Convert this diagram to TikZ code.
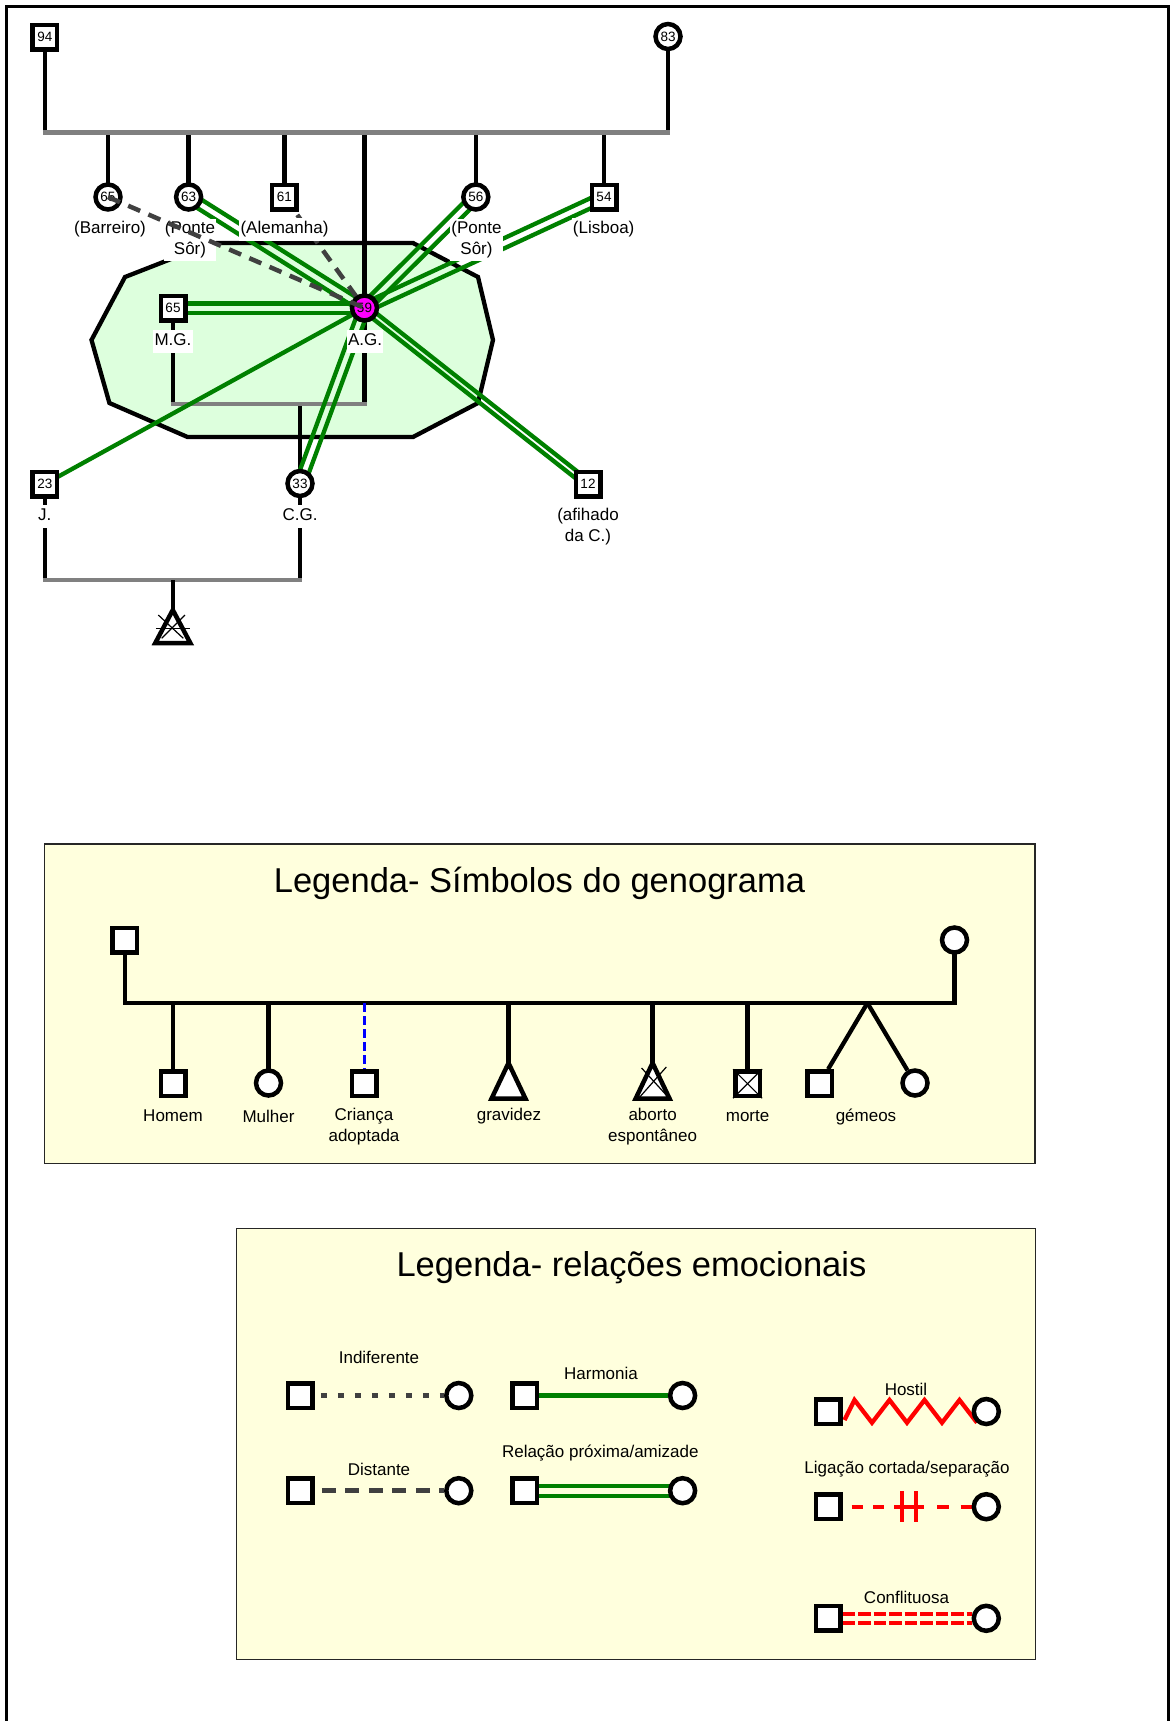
\documentclass[tikz,border=0pt]{standalone}
\usepackage{fontspec}
\setmainfont{Liberation Sans}
\usetikzlibrary{calc}

\definecolor{relgreen}{HTML}{008000}
\definecolor{dgray}{HTML}{404040}
\definecolor{midgray}{HTML}{808080}
\definecolor{mint}{HTML}{DDFFDD}
\definecolor{cream}{HTML}{FFFFDD}
\definecolor{agpink}{HTML}{FF00FF}

\pgfdeclarelayer{bg}
\pgfdeclarelayer{lines}
\pgfdeclarelayer{top}
\pgfsetlayers{bg,lines,main,top}

\newcommand\labfont{\fontsize{17}{21}\selectfont}
\newcommand\gnumfont{\fontsize{13.5}{15}\selectfont}
\newcommand\ttlfont{\fontsize{34.5}{40}\selectfont}

% close relationship: two parallel green lines between two nodes
\newcommand\closerel[3][4.65pt]{%
  \draw[harm] ($(#2.center)!#1!90:(#3.center)$) -- ($(#3.center)!#1!-90:(#2.center)$);
  \draw[harm] ($(#2.center)!#1!-90:(#3.center)$) -- ($(#3.center)!#1!90:(#2.center)$);}

\tikzset{
  gl/.style={line width=4.3pt},
  sibl/.style={line width=4.3pt, draw=midgray, line cap=rect},
  sq/.style={rectangle, draw, line width=4.5pt, fill=white, minimum size=24.5pt, inner sep=0pt, font=\gnumfont},
  ci/.style={circle, draw, line width=4.5pt, fill=white, minimum size=25pt, inner sep=0pt, font=\gnumfont},
  lab/.style={fill=white, font=\labfont, inner xsep=1.2pt, inner ysep=3.5pt, text height=12pt, text depth=4pt},
  labm/.style={fill=white, font=\labfont, align=center, inner xsep=1.2pt, inner ysep=3pt},
  leg/.style={font=\labfont, align=center, inner sep=0pt},
  harm/.style={draw=relgreen, line width=4.3pt},
  distl/.style={draw=dgray, line width=4.5pt, dash pattern=on 13pt off 9pt},
  redl/.style={draw=red, line width=4.3pt},
  tri/.style={draw, line width=4.5pt, fill=white, line join=miter, miter limit=20},
  thinx/.style={line width=1.2pt},
  legbox/.style={fill=cream, draw=black!85, line width=1.5pt},
}

\begin{document}
\begin{tikzpicture}[x=1pt, y=-1pt]
\useasboundingbox (0,0) rectangle (1170,1721);

% page frame (open at the bottom)
\draw[line width=3pt] (6.5,1730) -- (6.5,6.5) -- (1168.8,6.5) -- (1168.8,1730);

% ---------------- genogram ----------------
\coordinate (sib) at (0,132.5);
\coordinate (mgbar) at (0,404);
\coordinate (jcbar) at (0,580);
\coordinate (ab) at (172.8,610);

\node[sq] (n94) at (44.8,37) {94};
\node[ci] (n83) at (668,36.5) {83};
\node[ci] (c65) at (108,197) {65};
\node[ci] (c63) at (188.6,197) {63};
\node[sq] (c61) at (284.4,197) {61};
\node[ci] (c56) at (475.8,197) {56};
\node[sq] (c54) at (604,197) {54};
\node[sq] (mg) at (173,308) {65};
\node[ci, fill=agpink] (ag) at (364.5,308) {59};
\node[sq] (jj) at (44.8,484) {23};
\node[ci] (cg) at (300,483.5) {33};
\node[sq] (c12) at (588,484) {12};

% household boundary
\begin{pgfonlayer}{bg}
  \draw[line width=4.3pt, fill=mint] (212,243) -- (413,243) -- (478,277) -- (493,340)
    -- (478,403) -- (413,437) -- (187.5,437) -- (109.4,403) -- (91.5,340) -- (125,277) -- cycle;
\end{pgfonlayer}

\begin{pgfonlayer}{lines}
  % parents and siblings
  \draw[gl] (n94.center) -- (n94 |- sib);
  \draw[gl] (n83.center) -- (n83 |- sib);
  \foreach \nd in {c65,c63,c61,ag,c56,c54} \draw[gl] (\nd.center) -- (\nd |- sib);
  \draw[sibl] (n94 |- sib) -- (n83 |- sib);
  % M.G. and A.G. with their daughter
  \draw[gl] (mg.center) -- (mg |- mgbar);
  \draw[gl] (ag.center) -- (ag |- mgbar);
  \draw[gl] (cg.center) -- (cg |- mgbar);
  \draw[sibl] (mg |- mgbar) -- (ag |- mgbar);
  % J. and C.G.
  \draw[gl] (jj.center) -- (jj |- jcbar);
  \draw[gl] (cg.center) -- (cg |- jcbar);
  \draw[sibl] (jj |- jcbar) -- (cg |- jcbar);
  \draw[gl] (ab |- jcbar) -- (ab);
  % emotional relations of A.G.
  \closerel{ag}{c63}
  \closerel{ag}{c56}
  \closerel{ag}{c54}
  \closerel{ag}{mg}
  \closerel{ag}{cg}
  \closerel[3.2pt]{ag}{c12}
  \draw[harm] (ag.center) -- (jj.center);
  \draw[distl] (c61.center) -- (ag.center);
\end{pgfonlayer}

% miscarriage of J. and C.G.
\draw[tri] (ab) -- ++(17.5,33) -- ++(-35,0) -- cycle;
\draw[thinx] (ab) ++(-14.5,5) -- ++(25,23.3);
\draw[thinx] (ab) ++(12.2,5) -- ++(-23.3,23.3);
\draw[thinx] (ab) ++(-17,18.3) -- ++(34,0);

% name tags
\node[lab] (tb) at (110,229) {(Barreiro)};
\node[labm] (tp1) at (190,240) {(Ponte\\Sôr)};
\node[lab] (ta) at (284.5,229) {(Alemanha)};
\node[labm] (tp2) at (476.5,240) {(Ponte\\Sôr)};
\node[lab] (tl) at (603.7,229) {(Lisboa)};
\node[lab] (tmg) at (173,341) {M.G.};
\node[lab] (tag) at (365,341) {A.G.};
\node[lab] (tj) at (44.8,516) {J.};
\node[lab] (tcg) at (300,516) {C.G.};
\node[labm] (t12) at (588,527) {(afihado\\da C.)};

\begin{pgfonlayer}{top}
  \draw[distl] (c65.center) -- (ag.center);
\end{pgfonlayer}

% ---------------- legend: genogram symbols ----------------
\begin{pgfonlayer}{bg}
  \draw[legbox] (44.3,844) rectangle (1035,1163.3);
  \draw[legbox] (236.3,1228.3) rectangle (1035.4,1659.3);
\end{pgfonlayer}
\node[font=\ttlfont] (t1) at (539.5,883) {Legenda- Símbolos do genograma};

\coordinate (lbar) at (0,1003);
\coordinate (lgrv) at (508.5,1063);
\coordinate (labo) at (652.6,1063);
\coordinate (ltw) at (867.4,1003);
\node[sq] (lfa) at (124.8,940) {};
\node[ci] (lmo) at (954.5,940) {};
\node[sq] (lhom) at (173,1083.7) {};
\node[ci] (lmul) at (268.5,1083) {};
\node[sq] (lado) at (364,1083.7) {};
\node[sq] (lmor) at (747.6,1083.7) {};
\node[sq] (ltwa) at (819.5,1083.7) {};
\node[ci] (ltwb) at (915,1083) {};

\begin{pgfonlayer}{lines}
  \draw[gl] (lfa.center) -- (lfa |- lbar) -- (lmo |- lbar) -- (lmo.center);
  \draw[gl] (lhom.center) -- (lhom |- lbar);
  \draw[gl] (lmul.center) -- (lmul |- lbar);
  \draw[line width=3pt, draw=blue, dash pattern=on 9pt off 4pt] (lado |- lbar) -- (lado.north);
  \draw[gl] (lgrv |- lbar) -- (lgrv);
  \draw[gl] (labo |- lbar) -- (labo);
  \draw[gl] (lmor.center) -- (lmor |- lbar);
  \draw[gl] (ltw) -- (ltwa);
  \draw[gl] (ltw) -- (ltwb);
\end{pgfonlayer}

\draw[tri] (lgrv) -- ++(17,35.7) -- ++(-34,0) -- cycle;
\draw[tri] (labo) -- ++(17,35.7) -- ++(-34,0) -- cycle;
\draw[thinx] (labo) ++(-11,5) -- ++(28,30.7);
\draw[thinx] (labo) ++(13.7,4) -- ++(-28,31.7);
\draw[thinx] (lmor.north west) -- (lmor.south east);
\draw[thinx] (lmor.north east) -- (lmor.south west);

\node[leg] (lt1) at (173,1116) {Homem};
\node[leg] (lt2) at (268.5,1116) {Mulher};
\node[leg] (lt3) at (364,1127) {Criança\\adoptada};
\node[leg] (lt4) at (509,1116) {gravidez};
\node[leg] (lt5) at (652.6,1127) {aborto\\espontâneo};
\node[leg] (lt6) at (747.6,1116) {morte};
\node[leg] (lt7) at (866,1117) {gémeos};

% ---------------- legend: emotional relations ----------------
\node[font=\ttlfont] (t2) at (631.5,1268) {Legenda- relações emocionais};

\node[sq] (isq) at (300.3,1395.5) {};
\node[ci] (icr) at (458.8,1395.5) {};
\node[sq] (asq) at (524.7,1395.5) {};
\node[ci] (acr) at (682.6,1395.5) {};
\node[sq] (dsq) at (300.3,1490.7) {};
\node[ci] (dcr) at (458.8,1490.7) {};
\node[sq] (psq) at (524.7,1490.7) {};
\node[ci] (pcr) at (682.6,1490.7) {};
\node[sq] (hsq) at (828,1411.5) {};
\node[ci] (hcr) at (986.3,1411.5) {};
\node[sq] (csq) at (828,1506.7) {};
\node[ci] (ccr) at (986.3,1506.7) {};
\node[sq] (fsq) at (828,1618.3) {};
\node[ci] (fcr) at (986.3,1618.3) {};

\begin{pgfonlayer}{lines}
  \draw[draw=dgray, line width=5pt, dash pattern=on 6pt off 11pt, dash phase=11pt] (isq.east) -- (icr.west);
  \draw[harm] (asq) -- (acr);
  \draw[draw=dgray, line width=4.5pt, dash pattern=on 14pt off 9.5pt, dash phase=16.5pt] (dsq.east) -- (dcr.west);
  \closerel[5pt]{psq}{pcr}
  \draw[redl, line join=miter] (hsq.east) ++(2,8.5) -- ++(10,-20) -- ++(17.5,22.7) -- ++(17.5,-22.7)
    -- ++(17.5,22.7) -- ++(17.5,-22.7) -- ++(17.5,22.7) -- ++(17.5,-22.7) -- ++(17.5,22.7);
  \draw[redl] (csq.east) ++(9,0) -- ++(11,0) ++(10.5,0) -- ++(11,0) ++(10,0) -- ++(30,0)
    ++(13.2,0) -- ++(11.7,0) ++(11.6,0) -- ++(12,0);
  \draw[redl, line width=3.8pt] (csq.east) ++(59.75,-15.3) -- ++(0,30.6);
  \draw[redl, line width=3.8pt] (csq.east) ++(73.5,-15.3) -- ++(0,30.6);
  \draw[redl, dash pattern=on 12.5pt off 3pt] ([yshift=4.5pt]fsq.east) -- ([yshift=4.5pt]fcr.west);
  \draw[redl, dash pattern=on 12.5pt off 3pt] ([yshift=-4.5pt]fsq.east) -- ([yshift=-4.5pt]fcr.west);
\end{pgfonlayer}

\node[leg] (rl1) at (379,1357.5) {Indiferente};
\node[leg] (rl2) at (601,1373) {Harmonia};
\node[leg] (rl3) at (379,1469) {Distante};
\node[leg] (rl4) at (600.3,1453.5) {Relação próxima/amizade};
\node[leg] (rl5) at (906,1389) {Hostil};
\node[leg] (rl6) at (907,1469) {Ligação cortada/separação};
\node[leg] (rl7) at (906.5,1597) {Conflituosa};

\end{tikzpicture}
\end{document}
